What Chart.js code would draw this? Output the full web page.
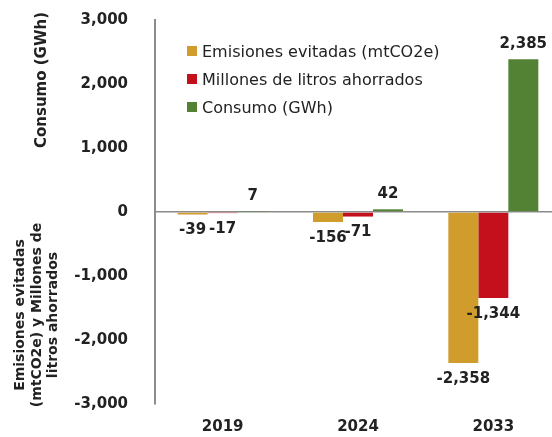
<!DOCTYPE html>
<html>
<head>
<meta charset="utf-8">
<script src="https://cdn.jsdelivr.net/npm/chart.js@4.4.1/dist/chart.umd.min.js"></script>
<style>
  html, body { margin: 0; padding: 0; background: #fff; }
  #wrap { position: relative; width: 552px; height: 437px; overflow: hidden; }
  #chart { position: absolute; left: 0; top: 0; }
  #legend { position: absolute; left: 187px; top: 37px; font-family: "DejaVu Sans", sans-serif; font-size: 16px; color: #222; }
  #legend .row { display: flex; align-items: center; height: 28px; }
  #legend .box { width: 10px; height: 10px; margin-right: 5px; }
</style>
</head>
<body>
<div id="wrap">
  <canvas id="chart" width="561" height="437"></canvas>
  <div id="legend"></div>
</div>
<script>
const years = ["2019", "2024", "2033"];
const seriesNames = ["Emisiones evitadas (mtCO2e)", "Millones de litros ahorrados", "Consumo (GWh)"];
const emisiones = [-39, -156, -2358];
const litros = [-17, -71, -1344];
const consumo = [7, 42, 2385];
const seriesColors = ["#D09D2C", "#C4101D", "#548235"];
const yTicks = [-3000, -2000, -1000, 0, 1000, 2000, 3000];

const boldFont = { family: "DejaVu Sans", size: 15, weight: "bold" };
const fmt = v => v.toLocaleString("en-US");

// value labels just past the end of each bar
const barLabels = {
  id: "barLabels",
  afterDatasetsDraw(chart) {
    const ctx = chart.ctx;
    ctx.save();
    ctx.font = "bold 15px 'DejaVu Sans'";
    ctx.fillStyle = "#222";
    ctx.textAlign = "center";
    ctx.textBaseline = "middle";
    chart.data.datasets.forEach((ds, i) => {
      chart.getDatasetMeta(i).data.forEach((bar, j) => {
        const v = ds.data[j];
        const off = v < 0 ? 16 : -15;
        ctx.fillText(fmt(v), bar.x, bar.y + off);
      });
    });
    ctx.restore();
  }
};

// the two stacked axis titles on the left
const axisTitles = {
  id: "axisTitles",
  afterDraw(chart) {
    const ctx = chart.ctx;
    ctx.save();
    ctx.font = "bold 15px 'DejaVu Sans'";
    ctx.fillStyle = "#222";
    ctx.textAlign = "center";
    ctx.textBaseline = "middle";
    const rot = (text, x, y) => {
      ctx.save();
      ctx.translate(x, y);
      ctx.rotate(-Math.PI / 2);
      ctx.fillText(text, 0, 0);
      ctx.restore();
    };
    rot("Consumo (GWh)", 42, 80);
    ctx.font = "bold 14px 'DejaVu Sans'";
    rot("Emisiones evitadas", 20, 315);
    rot("(mtCO2e) y Millones de", 37, 315);
    rot("litros ahorrados", 53, 315);
    ctx.restore();
  }
};

const datasets = [emisiones, litros, consumo].map((d, i) => ({
  label: seriesNames[i],
  data: d,
  backgroundColor: seriesColors[i],
  categoryPercentage: 0.665,
  barPercentage: 1
}));

new Chart(document.getElementById("chart"), {
  type: "bar",
  data: { labels: years, datasets: datasets },
  options: {
    responsive: false,
    animation: false,
    locale: "en-US",
    layout: { padding: { top: 20, bottom: 0, right: 0, left: 0 } },
    plugins: { legend: { display: false }, tooltip: { enabled: false } },
    scales: {
      x: {
        grid: { display: false, drawTicks: false },
        border: { display: false },
        afterFit: s => { s.height = 33; },
        ticks: { font: boldFont, color: "#222", padding: 14 }
      },
      y: {
        min: -3000,
        max: 3000,
        afterBuildTicks: s => { s.ticks = yTicks.map(v => ({ value: v })); },
        afterFit: s => { s.width = 155; },
        ticks: { font: boldFont, color: "#222", padding: 0, callback: v => fmt(v) },
        grid: {
          drawTicks: true,
          tickLength: 27,
          tickColor: "transparent",
          lineWidth: 1.5,
          color: c => (c.tick && c.tick.value === 0 ? "#8c8c8c" : "transparent")
        },
        border: { color: "#8c8c8c", width: 2 }
      }
    }
  },
  plugins: [barLabels, axisTitles]
});

const legend = document.getElementById("legend");
seriesNames.forEach((name, i) => {
  const row = document.createElement("div");
  row.className = "row";
  const box = document.createElement("span");
  box.className = "box";
  box.style.background = seriesColors[i];
  const txt = document.createElement("span");
  txt.textContent = name;
  row.appendChild(box);
  row.appendChild(txt);
  legend.appendChild(row);
});
</script>
</body>
</html>
